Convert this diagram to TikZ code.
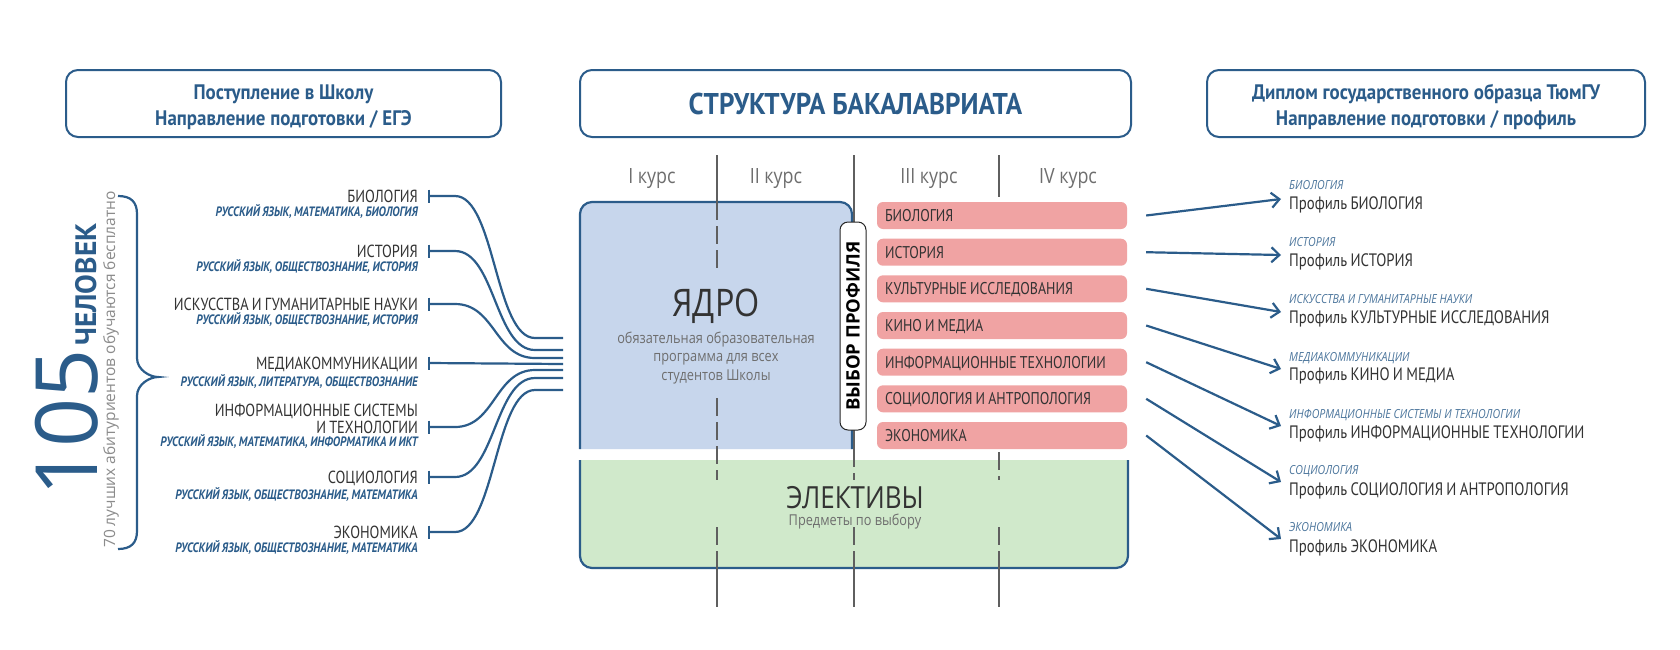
\documentclass[tikz,border=0pt]{standalone}
\usepackage{fontspec}
\setmainfont{PT Sans}[FakeStretch=0.82,WordSpace=0.85]
\newfontfamily\hdrf{PT Sans}[FakeStretch=0.9]
\newfontfamily\ptn{PT Sans}
\newfontfamily\lightf{Open Sans}[FakeStretch=0.85]
\newfontfamily\lightn{Open Sans}
\usetikzlibrary{arrows.meta}
\definecolor{dblue}{RGB}{43,92,138}
\definecolor{txt}{RGB}{51,51,51}
\definecolor{corefill}{RGB}{199,214,236}
\definecolor{elecfill}{RGB}{208,233,203}
\definecolor{pinkbar}{RGB}{240,163,163}
\definecolor{vline}{RGB}{95,95,95}
\definecolor{graytxt}{RGB}{110,110,110}
\begin{document}
\begin{tikzpicture}[x=1pt,y=-1pt,
  hdr/.style={draw=dblue, line width=2pt, rounded corners=12pt, minimum height=67pt, inner sep=0pt},
  hdrtext/.style={inner sep=0pt, align=center, text=dblue, font=\hdrf\bfseries\fontsize{21}{26}\selectfont},
  course/.style={anchor=base, inner sep=0pt, text=graytxt, font=\lightf\fontsize{21}{21}\selectfont},
  lab/.style={anchor=base east, inner sep=0pt, text=txt, font=\fontsize{17.5}{17.5}\selectfont},
  sublab/.style={anchor=base east, inner sep=0pt, text=dblue, font=\bfseries\itshape\fontsize{13.6}{13.6}\selectfont},
  conn/.style={draw=dblue, line width=2.2pt},
  tickmark/.style={draw=dblue, line width=2.6pt},
  boxb/.style={draw=dblue, line width=2.2pt},
  vl/.style={draw=vline, line width=1.3pt},
  vdash/.style={draw=vline, line width=1.3pt, dash pattern=on 18pt off 6pt},
  bar/.style={fill=pinkbar, rounded corners=6pt, minimum height=27pt, minimum width=250pt,
    inner xsep=8pt, inner ysep=0pt, text=txt, text height=11.8pt, text depth=0pt,
    font=\fontsize{17}{17}\selectfont},
  pill/.style={draw=black!85, line width=1pt, fill=white, rounded corners=8pt,
    minimum width=208pt, minimum height=26pt, inner sep=0pt,
    font=\lightn\bfseries\fontsize{18.5}{18.5}\selectfont},
  arr/.style={draw=dblue, line width=2.2pt, -{Straight Barb[length=8pt,width=15pt]}},
  psmall/.style={anchor=base west, inner sep=0pt, text=dblue!85, font=\lightf\itshape\fontsize{12.5}{12.5}\selectfont},
  pbig/.style={anchor=base west, inner sep=0pt, text=txt, font=\fontsize{18}{18}\selectfont}
]
\fill[white] (0,0) rectangle (1680,649);
\useasboundingbox (0,0) rectangle (1680,649);

% headers
\node[hdr, minimum width=435pt] (hl) at (283.5,103.5) {};
\node[hdrtext] (hlt) at ([yshift=-3.5pt]hl.center) {Поступление в Школу\\Направление подготовки / ЕГЭ};
\node[hdr, minimum width=551pt] (hc) at (855.5,103.5) {};
\node[hdrtext, font=\hdrf\bfseries\fontsize{30}{30}\selectfont] (hct) at (hc.center) {СТРУКТУРА БАКАЛАВРИАТА};
\node[hdr, minimum width=438pt] (hr) at (1426,103.5) {};
\node[hdrtext] (hrt) at ([yshift=-3.5pt]hr.center) {Диплом государственного образца ТюмГУ\\Направление подготовки / профиль};

% course labels
\node[course] (c1) at (652,183) {I курс};
\node[course] (c2) at (776,183) {II курс};
\node[course] (c3) at (929,183) {III курс};
\node[course] (c4) at (1068,183) {IV курс};

% boxes
\draw[boxb, fill=corefill, rounded corners=12pt] (580,449) -- (580,202) -- (852,202) -- (852,449);
\draw[boxb, fill=elecfill, rounded corners=12pt] (580,460) -- (580,568) -- (1128,568) -- (1128,460);

% vertical course dividers
\draw[vl] (717,155) -- (717,202);
\draw[vdash] (717,202) -- (717,272);
\draw[vdash] (717,398) -- (717,480);
\draw[vdash] (717,527) -- (717,568);
\draw[vl] (717,568) -- (717,607);
\draw[vl] (854,155) -- (854,449);
\draw[vdash] (854,449) -- (854,480);
\draw[vdash] (854,527) -- (854,568);
\draw[vl] (854,568) -- (854,607);
\draw[vl] (999,155) -- (999,197);
\draw[vdash] (999,452) -- (999,480);
\draw[vdash] (999,527) -- (999,568);
\draw[vl] (999,568) -- (999,607);

% core text
\node[anchor=base, inner sep=0pt, text=txt, font=\lightf\fontsize{38}{38}\selectfont] (core) at (716,316.5) {ЯДРО};
\node[align=center, inner sep=0pt, text=graytxt, font=\lightf\fontsize{15}{18.5}\selectfont] (coresub) at (716,358) {обязательная образовательная\\программа для всех\\студентов Школы};
\node[anchor=base, inner sep=0pt, text=txt, font=\lightf\fontsize{30.5}{30.5}\selectfont] (elec) at (855,508) {ЭЛЕКТИВЫ};
\node[anchor=base, inner sep=0pt, text=graytxt, font=\lightf\fontsize{15}{15}\selectfont] (elecsub) at (855,525) {Предметы по выбору};

% profile bars
\node[bar] (b1) at (1002,215.5) {\makebox[234pt][l]{БИОЛОГИЯ}};
\node[bar] (b2) at (1002,252.2) {\makebox[234pt][l]{ИСТОРИЯ}};
\node[bar] (b3) at (1002,288.8) {\makebox[234pt][l]{КУЛЬТУРНЫЕ ИССЛЕДОВАНИЯ}};
\node[bar] (b4) at (1002,325.5) {\makebox[234pt][l]{КИНО И МЕДИА}};
\node[bar] (b5) at (1002,362.2) {\makebox[234pt][l]{ИНФОРМАЦИОННЫЕ ТЕХНОЛОГИИ}};
\node[bar] (b6) at (1002,398.8) {\makebox[234pt][l]{СОЦИОЛОГИЯ И АНТРОПОЛОГИЯ}};
\node[bar] (b7) at (1002,435.5) {\makebox[234pt][l]{ЭКОНОМИКА}};

% choice pill
\node[pill, rotate=90] (vp) at (853,326) {ВЫБОР ПРОФИЛЯ};

% left brace & counts
\node[anchor=base west, rotate=90, inner sep=0pt, text=dblue, font=\lightn\fontsize{86}{86}\selectfont] (n105) at (97,497) {105};
\node[anchor=base west, rotate=90, inner sep=0pt, text=dblue, font=\ptn\bfseries\fontsize{29.5}{29.5}\selectfont] (chel) at (96,346) {ЧЕЛОВЕК};
\node[anchor=base west, rotate=90, inner sep=0pt, text=graytxt!80, font=\lightn\fontsize{15.5}{15.5}\selectfont] (best) at (115,548) {70 лучших абитуриентов обучаются бесплатно};
\draw[conn] (118,196) .. controls (131,196) and (137,202) .. (137,214) -- (137,358)
  .. controls (137,370) and (150,377) .. (158,377)
  .. controls (150,377) and (137,384) .. (137,396) -- (137,531)
  .. controls (137,543) and (131,549) .. (118,549);

% left labels
\node[lab] (l1) at (418,202) {БИОЛОГИЯ};
\node[sublab] (s1) at (418,216.5) {РУССКИЙ ЯЗЫК, МАТЕМАТИКА, БИОЛОГИЯ};
\node[lab] (l2) at (418,257) {ИСТОРИЯ};
\node[sublab] (s2) at (418,271.5) {РУССКИЙ ЯЗЫК, ОБЩЕСТВОЗНАНИЕ, ИСТОРИЯ};
\node[lab] (l3) at (418,310) {ИСКУССТВА И ГУМАНИТАРНЫЕ НАУКИ};
\node[sublab] (s3) at (418,324.5) {РУССКИЙ ЯЗЫК, ОБЩЕСТВОЗНАНИЕ, ИСТОРИЯ};
\node[lab] (l4) at (418,369) {МЕДИАКОММУНИКАЦИИ};
\node[sublab] (s4) at (418,386.5) {РУССКИЙ ЯЗЫК, ЛИТЕРАТУРА, ОБЩЕСТВОЗНАНИЕ};
\node[lab] (l5a) at (418,416) {ИНФОРМАЦИОННЫЕ СИСТЕМЫ};
\node[lab] (l5) at (418,433) {И ТЕХНОЛОГИИ};
\node[sublab] (s5) at (418,446.5) {РУССКИЙ ЯЗЫК, МАТЕМАТИКА, ИНФОРМАТИКА И ИКТ};
\node[lab] (l6) at (418,483) {СОЦИОЛОГИЯ};
\node[sublab] (s6) at (418,499.5) {РУССКИЙ ЯЗЫК, ОБЩЕСТВОЗНАНИЕ, МАТЕМАТИКА};
\node[lab] (l7) at (418,538) {ЭКОНОМИКА};
\node[sublab] (s7) at (418,552.5) {РУССКИЙ ЯЗЫК, ОБЩЕСТВОЗНАНИЕ, МАТЕМАТИКА};

% left connectors
\coordinate (t1) at (429,196); \coordinate (e1) at (563,338);
\coordinate (t2) at (429,251); \coordinate (e2) at (563,350);
\coordinate (t3) at (429,304); \coordinate (e3) at (563,358);
\coordinate (t4) at (429,363); \coordinate (e4) at (563,364);
\coordinate (t5) at (429,427); \coordinate (e5) at (563,370);
\coordinate (t6) at (429,477); \coordinate (e6) at (563,378);
\coordinate (t7) at (429,532); \coordinate (e7) at (563,390);
\foreach \i in {1,2,3,5,6,7}{
  \draw[conn] (t\i) -- ++(26,0) .. controls +(40,0) and ([xshift=-68pt]e\i) .. ([xshift=-28pt]e\i) -- (e\i);
}
\draw[conn] (t4) -- (e4);
\foreach \i in {1,...,7}{
  \draw[tickmark] ([yshift=6.5pt]t\i) -- ([yshift=-6.5pt]t\i);
}

% right profiles
\node[psmall] (ps1) at (1289,189) {БИОЛОГИЯ};
\node[pbig] (pb1) at (1289,209) {Профиль БИОЛОГИЯ};
\node[psmall] (ps2) at (1289,246) {ИСТОРИЯ};
\node[pbig] (pb2) at (1289,266) {Профиль ИСТОРИЯ};
\node[psmall] (ps3) at (1289,303) {ИСКУССТВА И ГУМАНИТАРНЫЕ НАУКИ};
\node[pbig] (pb3) at (1289,323) {Профиль КУЛЬТУРНЫЕ ИССЛЕДОВАНИЯ};
\node[psmall] (ps4) at (1289,361) {МЕДИАКОММУНИКАЦИИ};
\node[pbig] (pb4) at (1289,380) {Профиль КИНО И МЕДИА};
\node[psmall] (ps5) at (1289,418) {ИНФОРМАЦИОННЫЕ СИСТЕМЫ И ТЕХНОЛОГИИ};
\node[pbig] (pb5) at (1289,438) {Профиль ИНФОРМАЦИОННЫЕ ТЕХНОЛОГИИ};
\node[psmall] (ps6) at (1289,474) {СОЦИОЛОГИЯ};
\node[pbig] (pb6) at (1289,495) {Профиль СОЦИОЛОГИЯ И АНТРОПОЛОГИЯ};
\node[psmall] (ps7) at (1289,531) {ЭКОНОМИКА};
\node[pbig] (pb7) at (1289,552) {Профиль ЭКОНОМИКА};

% arrows
\coordinate (z1) at (1281,199);
\coordinate (z2) at (1281,255);
\coordinate (z3) at (1281,312);
\coordinate (z4) at (1281,369);
\coordinate (z5) at (1281,426);
\coordinate (z6) at (1281,482);
\coordinate (z7) at (1281,539);
\foreach \i in {1,...,7}{
  \draw[arr] ([xshift=19pt]b\i.east) -- (z\i);
}
\end{tikzpicture}
\end{document}
